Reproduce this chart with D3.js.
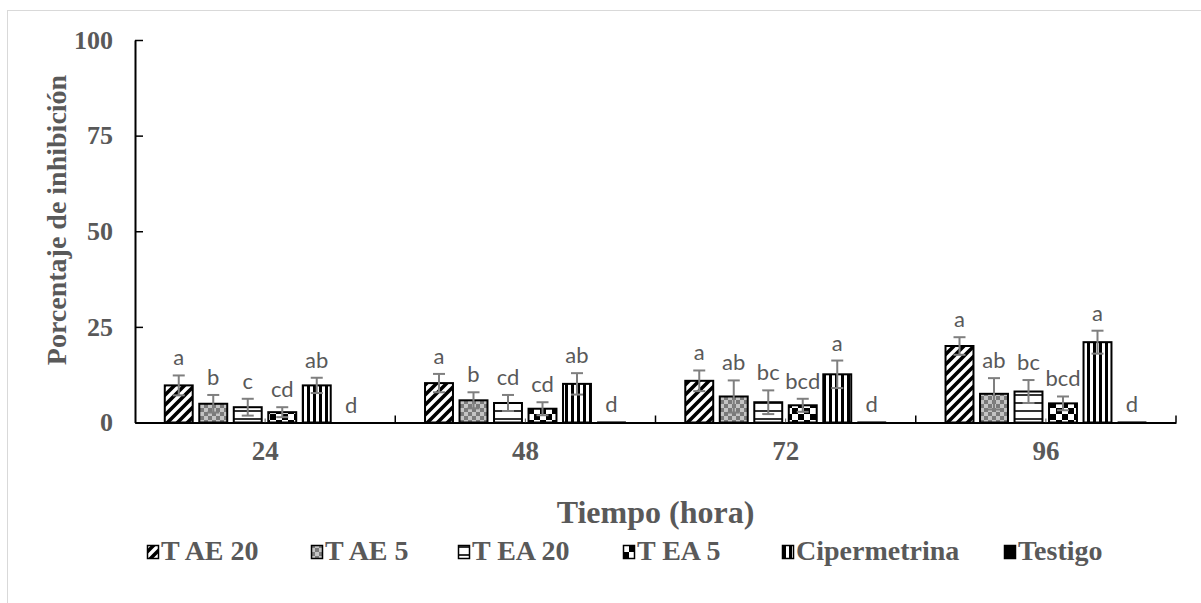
<!DOCTYPE html>
<html>
<head>
<meta charset="utf-8">
<script src="https://cdn.jsdelivr.net/npm/d3@7"></script>
<style>
  html, body { margin: 0; padding: 0; background: #fff; }
  svg { display: block; }
  .serif { font-family: "Liberation Serif", "Times New Roman", serif; font-weight: bold; fill: #595959; }
  .letter { font-family: Lato, "Liberation Sans", sans-serif; fill: #595959; }
</style>
</head>
<body>
<svg id="chart" width="1201" height="603"></svg>
<script>
// Hours after treatment
const categories = ["24", "48", "72", "96"];
const seriesNames = ["T AE 20", "T AE 5", "T EA 20", "T EA 5", "Cipermetrina", "Testigo"];

// Mean inhibition (%) per treatment, one entry per hour
const tAE20 = [9.7, 10.3, 10.9, 20.0];
const tAE5 = [4.9, 5.8, 6.8, 7.5];
const tEA20 = [4.0, 5.1, 5.3, 8.1];
const tEA5 = [2.7, 3.6, 4.5, 5.0];
const cipermetrina = [9.7, 10.1, 12.6, 21.0];
const testigo = [0, 0.2, 0.2, 0.2];

// Error (±) per treatment
const errAE20 = [2.6, 2.4, 2.7, 2.3];
const errAE5 = [2.3, 2.1, 4.2, 4.1];
const errEA20 = [2.2, 2.1, 3.1, 3.0];
const errEA5 = [1.3, 1.7, 1.7, 1.8];
const errCiper = [2.0, 2.8, 3.6, 3.0];
const errTestigo = [0, 0, 0, 0];

// Significance letters
const lettersAE20 = ["a", "a", "a", "a"];
const lettersAE5 = ["b", "b", "ab", "ab"];
const lettersEA20 = ["c", "cd", "bc", "bc"];
const lettersEA5 = ["cd", "cd", "bcd", "bcd"];
const lettersCiper = ["ab", "ab", "a", "a"];
const lettersTestigo = ["d", "d", "d", "d"];

const yTicks = [0, 25, 50, 75, 100];

const values = [tAE20, tAE5, tEA20, tEA5, cipermetrina, testigo];
const errors = [errAE20, errAE5, errEA20, errEA5, errCiper, errTestigo];
const letters = [lettersAE20, lettersAE5, lettersEA20, lettersEA5, lettersCiper, lettersTestigo];
const patternIds = ["pDiag", "pCheck", "pHoriz", "pBigCheck", "pVert", null];

const svg = d3.select("#chart");

// Light frame around the chart
svg.append("rect")
  .attr("x", 7.5).attr("y", 10.5).attr("width", 1210).attr("height", 610)
  .attr("fill", "none").attr("stroke", "#d9d9d9").attr("stroke-width", 1);

// Fill patterns
const defs = svg.append("defs");
{
  const p = defs.append("pattern").attr("id", "pDiag").attr("patternUnits", "userSpaceOnUse")
    .attr("width", 10).attr("height", 10);
  p.append("rect").attr("width", 10).attr("height", 10).attr("fill", "#fff");
  p.append("path").attr("d", "M-3,3 L3,-3 M0,10 L10,0 M7,13 L13,7")
    .attr("stroke", "#000").attr("stroke-width", 3.6);
}
{
  const p = defs.append("pattern").attr("id", "pCheck").attr("patternUnits", "userSpaceOnUse")
    .attr("width", 8).attr("height", 8);
  p.append("rect").attr("width", 8).attr("height", 8).attr("fill", "#c4c4c4");
  p.append("rect").attr("width", 4).attr("height", 4).attr("fill", "#7a7a7a");
  p.append("rect").attr("x", 4).attr("y", 4).attr("width", 4).attr("height", 4).attr("fill", "#7a7a7a");
}
{
  const p = defs.append("pattern").attr("id", "pHoriz").attr("patternUnits", "userSpaceOnUse")
    .attr("width", 8).attr("height", 8);
  p.append("rect").attr("width", 8).attr("height", 8).attr("fill", "#fff");
  p.append("rect").attr("y", 2).attr("width", 8).attr("height", 2).attr("fill", "#333");
}
{
  const p = defs.append("pattern").attr("id", "pBigCheck").attr("patternUnits", "userSpaceOnUse")
    .attr("width", 12).attr("height", 12);
  p.append("rect").attr("width", 12).attr("height", 12).attr("fill", "#fff");
  p.append("rect").attr("width", 6).attr("height", 6).attr("fill", "#000");
  p.append("rect").attr("x", 6).attr("y", 6).attr("width", 6).attr("height", 6).attr("fill", "#000");
}
{
  const p = defs.append("pattern").attr("id", "pVert").attr("patternUnits", "userSpaceOnUse")
    .attr("width", 6).attr("height", 6);
  p.append("rect").attr("width", 6).attr("height", 6).attr("fill", "#fff");
  p.append("rect").attr("x", 1).attr("width", 3).attr("height", 6).attr("fill", "#000");
}
const fillFor = i => patternIds[i] ? `url(#${patternIds[i]})` : "#000";

// Scales
const plotLeft = 135, plotRight = 1176, plotTop = 40, plotBottom = 422.5;
const x = d3.scaleBand().domain(categories).range([plotLeft, plotRight]);
const xs = d3.scaleBand().domain(seriesNames).range([26.5, 233.5]).paddingInner(0.19).paddingOuter(0.095);
const y = d3.scaleLinear().domain([0, 100]).range([plotBottom, plotTop]);

const cells = [];
categories.forEach((c, ci) => {
  seriesNames.forEach((s, si) => {
    cells.push({ c, ci, s, si, v: values[si][ci], e: errors[si][ci], l: letters[si][ci] });
  });
});

// Bars
const gBars = svg.append("g");
gBars.selectAll("rect").data(cells).join("rect")
  .attr("x", d => x(d.c) + xs(d.s))
  .attr("y", d => y(d.v))
  .attr("width", xs.bandwidth())
  .attr("height", d => y(0) - y(d.v))
  .attr("fill", d => fillFor(d.si))
  .attr("stroke", d => d.v > 0 ? (d.si === 5 ? "#555" : "#000") : "none")
  .attr("stroke-width", d => d.si === 5 ? 1 : 2);

// Error bars
const gErr = svg.append("g").attr("stroke", "#7f7f7f").attr("stroke-width", 2);
const withErr = cells.filter(d => d.e > 0);
const cx = d => x(d.c) + xs(d.s) + xs.bandwidth() / 2;
gErr.selectAll("line.v").data(withErr).join("line").attr("class", "v")
  .attr("x1", cx).attr("x2", cx)
  .attr("y1", d => y(d.v - d.e)).attr("y2", d => y(d.v + d.e));
gErr.selectAll("line.t").data(withErr).join("line").attr("class", "t")
  .attr("x1", d => cx(d) - 6).attr("x2", d => cx(d) + 6)
  .attr("y1", d => y(d.v + d.e)).attr("y2", d => y(d.v + d.e));
gErr.selectAll("line.b").data(withErr).join("line").attr("class", "b")
  .attr("x1", d => cx(d) - 6).attr("x2", d => cx(d) + 6)
  .attr("y1", d => y(d.v - d.e)).attr("y2", d => y(d.v - d.e));

// Significance letters
svg.append("g").selectAll("text").data(cells).join("text")
  .attr("class", "letter")
  .attr("x", cx)
  .attr("y", d => y(d.v + d.e) - 10)
  .attr("text-anchor", "middle")
  .attr("font-size", 22)
  .text(d => d.l);

// Y axis
const yAxis = svg.append("g").attr("transform", `translate(${plotLeft},0)`)
  .call(d3.axisLeft(y).tickValues(yTicks).tickSizeInner(-8).tickSizeOuter(0).tickPadding(22));
yAxis.select(".domain").attr("stroke", "#000").attr("stroke-width", 2);
yAxis.selectAll(".tick line").attr("stroke", "#000").attr("stroke-width", 1.5);
yAxis.selectAll(".tick text").attr("class", "serif").attr("font-size", 26).attr("font-family", null);

// X axis
const xAxis = svg.append("g").attr("transform", `translate(0,${plotBottom})`)
  .call(d3.axisBottom(x).tickSize(0).tickPadding(18));
xAxis.select(".domain").attr("stroke", "#000").attr("stroke-width", 2);
xAxis.selectAll(".tick text").attr("class", "serif").attr("font-size", 27).attr("font-family", null);

// Category boundary ticks and small centre marks
const bounds = categories.map(c => x(c)).concat([x.range()[1]]).slice(1);
svg.append("g").selectAll("line").data(bounds).join("line")
  .attr("x1", d => d).attr("x2", d => d)
  .attr("y1", plotBottom).attr("y2", plotBottom - 7)
  .attr("stroke", "#000").attr("stroke-width", 1.5);
svg.append("g").selectAll("line").data(categories).join("line")
  .attr("x1", c => x(c) + x.bandwidth() / 2).attr("x2", c => x(c) + x.bandwidth() / 2)
  .attr("y1", plotBottom).attr("y2", plotBottom - 4)
  .attr("stroke", "#555").attr("stroke-width", 1);

// Axis titles
svg.append("text").attr("class", "serif")
  .attr("x", (plotLeft + plotRight) / 2).attr("y", 523)
  .attr("text-anchor", "middle").attr("font-size", 32)
  .text("Tiempo (hora)");
svg.append("text").attr("class", "serif")
  .attr("transform", "translate(66,220) rotate(-90)")
  .attr("text-anchor", "middle").attr("font-size", 28)
  .text("Porcentaje de inhibición");

// Legend
const legendX = [147, 311, 458, 623, 782, 1004];
const legend = svg.append("g").selectAll("g").data(seriesNames).join("g")
  .attr("transform", (s, i) => `translate(${legendX[i]},552)`);
legend.append("rect")
  .attr("x", 0.5).attr("y", -6.5).attr("width", 11).attr("height", 13)
  .attr("fill", (s, i) => fillFor(i))
  .attr("stroke", "#000").attr("stroke-width", 1.5);
legend.append("text").attr("class", "serif")
  .attr("x", 14).attr("y", 8).attr("font-size", 28)
  .text(s => s);
</script>
</body>
</html>
